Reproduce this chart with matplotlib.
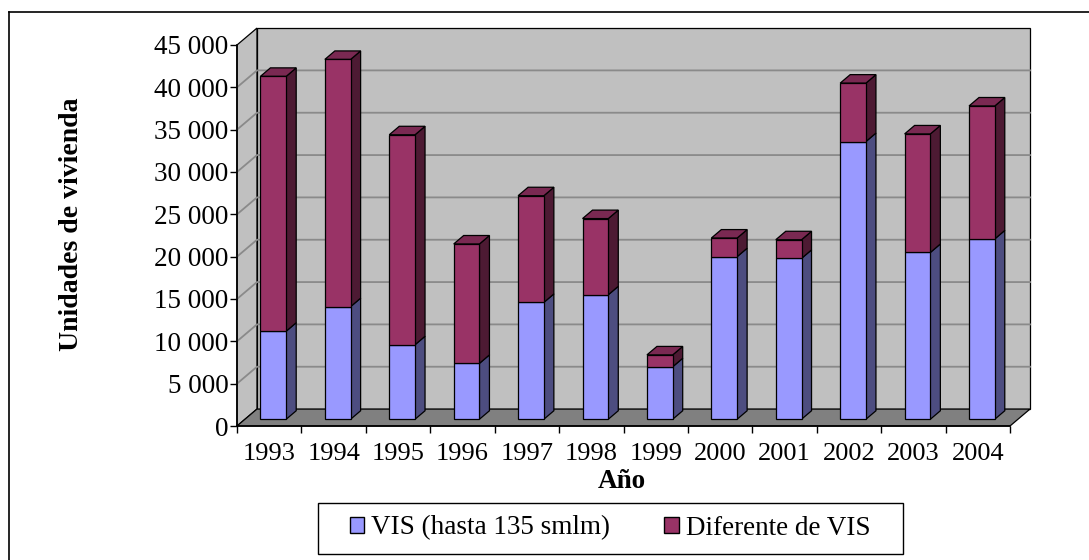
"""
Viviendas licenciadas por año: VIS vs. diferente de VIS (barras apiladas con efecto 3D)
"""

import matplotlib.pyplot as plt
from matplotlib.patches import Polygon, Patch, Rectangle
from matplotlib.lines import Line2D

# Datos
years = ['1993', '1994', '1995', '1996', '1997', '1998',
         '1999', '2000', '2001', '2002', '2003', '2004']
vis = [10400, 13300, 8800, 6600, 13800, 14700, 6200, 19200, 19000, 32800, 19700, 21300]
otros = [30100, 29200, 24800, 14100, 12600, 9000, 1400, 2200, 2200, 6900, 14000, 15700]
y_ticks = list(range(0, 45001, 5000))
labels = ['VIS (hasta 135 smlm)', 'Diferente de VIS']

plt.rcParams['font.family'] = ['Liberation Serif', 'DejaVu Serif']

W, H = 1089, 560
fig = plt.figure(figsize=(W / 100, H / 100), dpi=100)
ax = fig.add_axes([237 / W, 1 - 426 / H, 773 / W, 381 / H])
ax.patch.set_visible(False)

n = len(years)
ymax = y_ticks[-1]
ax.set_xlim(0, n)
ax.set_ylim(0, ymax)

# profundidad (desplazamiento oblicuo) en unidades de datos
dx, dy = 0.31, 2000
wall_c, floor_c, grid_c = '#c0c0c0', '#808080', '#8a8a8a'


def face(pts, color, z, lw=0.9):
    ax.add_patch(Polygon(pts, closed=True, facecolor=color, edgecolor='black',
                         lw=lw, clip_on=False, zorder=z, joinstyle='miter'))


# paredes y piso
face([(dx, dy), (n + dx, dy), (n + dx, ymax + dy), (dx, ymax + dy)], wall_c, 1)
face([(0, 0), (dx, dy), (dx, ymax + dy), (0, ymax)], wall_c, 1)
for v in y_ticks[1:-1]:
    ax.plot([0, dx, n + dx], [v, v + dy, v + dy], color=grid_c, lw=1.3,
            clip_on=False, zorder=1.5)
face([(0, 0), (n, 0), (n + dx, dy), (dx, dy)], floor_c, 2)

# barras
f0, f1 = 0.4, 0.9
bw = 0.40
base = f0 * dy
centers = [i + 0.5 + f0 * dx - 0.06 for i in range(n)]
bottoms2 = [base + v for v in vis]
ax.bar(centers, vis, bw, bottom=base, color='#9999ff', edgecolor='black',
       lw=0.9, zorder=5, clip_on=False)
ax.bar(centers, otros, bw, bottom=bottoms2, color='#993366', edgecolor='black',
       lw=0.9, zorder=5, clip_on=False)

sdx, sdy = (f1 - f0) * dx, (f1 - f0) * dy
for c, v, o in zip(centers, vis, otros):
    l, r = c - bw / 2, c + bw / 2
    t1 = base + v
    t2 = t1 + o
    face([(r, base), (r + sdx, base + sdy), (r + sdx, t1 + sdy), (r, t1)], '#4d4d80', 4)
    face([(r, t1), (r + sdx, t1 + sdy), (r + sdx, t2 + sdy), (r, t2)], '#4d1a33', 4)
    face([(l, t2), (r, t2), (r + sdx, t2 + sdy), (l + sdx, t2 + sdy)], '#7a2952', 4)

# ejes
for side in ['top', 'right']:
    ax.spines[side].set_visible(False)
for side in ['left', 'bottom']:
    ax.spines[side].set_linewidth(1.2)
    ax.spines[side].set_zorder(6)

ax.set_xticks(range(n + 1))
ax.set_xticklabels([])
ax.set_xticks([i + 0.5 for i in range(n)], minor=True)
ax.set_xticklabels(years, minor=True)
ax.tick_params(axis='x', which='major', direction='out', length=5, width=1)
ax.tick_params(axis='x', which='minor', length=0, pad=12, labelsize=19)

ax.set_yticks(y_ticks)
ax.set_yticklabels([f'{v:,}'.replace(',', ' ') for v in y_ticks])
ax.tick_params(axis='y', direction='out', length=5, width=1, pad=1, labelsize=19.5)

fig.text(71 / W, 1 - 224 / H, 'Unidades de vivienda', rotation=90,
         ha='center', va='center', fontweight='bold', fontsize=20)
fig.text(622 / W, 1 - 482 / H, 'Año', ha='center', va='center',
         fontweight='bold', fontsize=19.5)

# leyenda con marco propio
fig.add_artist(Rectangle((318 / W, 1 - 554 / H), 585 / W, 51 / H, facecolor='white',
                         edgecolor='black', lw=1, transform=fig.transFigure, zorder=3))
handles = [Patch(facecolor='#9999ff', edgecolor='black'),
           Patch(facecolor='#993366', edgecolor='black')]
leg = fig.legend(handles, labels, loc='center',
                 bbox_to_anchor=(610 / W, 1 - 528 / H), ncol=2,
                 frameon=False, fontsize=19.5, handlelength=0.55, handleheight=0.55,
                 handletextpad=0.25, columnspacing=2.0, borderpad=0.2)
leg.set_zorder(4)

# marco exterior
fig.add_artist(Line2D([9 / W, 9 / W], [1 - 12 / H, 0], color='black', lw=1.2,
                      transform=fig.transFigure))
fig.add_artist(Line2D([9 / W, 1], [1 - 12 / H, 1 - 12 / H], color='black', lw=1.2,
                      transform=fig.transFigure))

fig.savefig('out.png', dpi=100)
